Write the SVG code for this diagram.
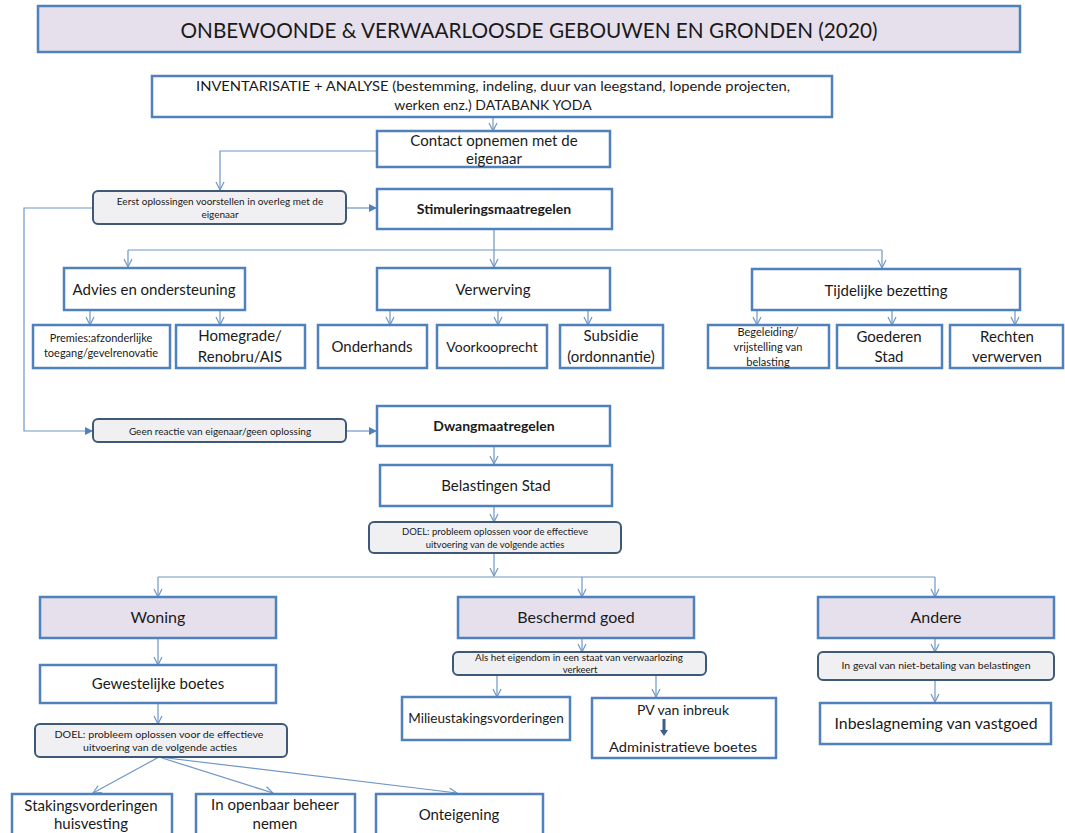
<svg xmlns="http://www.w3.org/2000/svg" width="1065" height="833" viewBox="0 0 1065 833">
<style>
text{font-family:Lato,"Liberation Sans",sans-serif;fill:#1a1a1a;text-anchor:middle}
.box{fill:#fff;stroke:#4f81bd;stroke-width:2.5}
.hdr{fill:#e6e0ec;stroke:#4f81bd;stroke-width:2.5}
.rnd{fill:#f0f0f2;stroke:#3e5878;stroke-width:2}
.ln{fill:none;stroke:#6f97c6;stroke-width:1.2}
.b{font-weight:bold}
</style>
<defs>
<marker id="ar" markerUnits="userSpaceOnUse" markerWidth="12" markerHeight="12" refX="9" refY="5" orient="auto">
<path d="M1,1 L9,5 L1,9" fill="none" stroke="#6f97c6" stroke-width="1.2"/>
</marker>
<marker id="af" markerUnits="userSpaceOnUse" markerWidth="10" markerHeight="10" refX="7" refY="4" orient="auto">
<path d="M0,0 L8,4 L0,8 z" fill="#4f81bd"/>
</marker>
</defs>
<rect width="1065" height="833" fill="#fff"/>

<g id="connectors">
<path class="ln" d="M493,117 V131" marker-end="url(#ar)"/>
<path class="ln" d="M377,151 H220 V190" marker-end="url(#ar)"/>
<path class="ln" d="M346,208 H376" marker-end="url(#af)"/>
<path class="ln" d="M93,208 H24 V431 H92" marker-end="url(#af)"/>
<path class="ln" d="M494,229 V267" marker-end="url(#ar)"/>
<path class="ln" d="M128,250 H882"/>
<path class="ln" d="M128,250 V267" marker-end="url(#ar)"/>
<path class="ln" d="M882,250 V268" marker-end="url(#ar)"/>
<path class="ln" d="M90,310 V325" marker-end="url(#ar)"/>
<path class="ln" d="M220,310 V325" marker-end="url(#ar)"/>
<path class="ln" d="M390,310 V325" marker-end="url(#ar)"/>
<path class="ln" d="M498,310 V325" marker-end="url(#ar)"/>
<path class="ln" d="M588,310 V325" marker-end="url(#ar)"/>
<path class="ln" d="M757,310 V325" marker-end="url(#ar)"/>
<path class="ln" d="M892,310 V325" marker-end="url(#ar)"/>
<path class="ln" d="M1015,310 V325" marker-end="url(#ar)"/>
<path class="ln" d="M346,431 H376" marker-end="url(#af)"/>
<path class="ln" d="M494,446 V464" marker-end="url(#ar)"/>
<path class="ln" d="M494,506 V522" marker-end="url(#ar)"/>
<path class="ln" d="M494,553 V576" marker-end="url(#ar)"/>
<path class="ln" d="M158,577 H935"/>
<path class="ln" d="M158,577 V597" marker-end="url(#ar)"/>
<path class="ln" d="M582,577 V597" marker-end="url(#ar)"/>
<path class="ln" d="M935,577 V597" marker-end="url(#ar)"/>
<path class="ln" d="M158,638 V665" marker-end="url(#ar)"/>
<path class="ln" d="M158,703 V724" marker-end="url(#ar)"/>
<path class="ln" d="M159,757 L93,793" marker-end="url(#ar)"/>
<path class="ln" d="M159,757 L273,793" marker-end="url(#ar)"/>
<path class="ln" d="M159,757 L457,793" marker-end="url(#ar)"/>
<path class="ln" d="M582,638 V652" marker-end="url(#ar)"/>
<path class="ln" d="M497,675 V697" marker-end="url(#ar)"/>
<path class="ln" d="M656,675 V697" marker-end="url(#ar)"/>
<path class="ln" d="M935,638 V652" marker-end="url(#ar)"/>
<path class="ln" d="M935,680 V702" marker-end="url(#ar)"/>
</g>

<g id="title"><rect class="hdr" x="38" y="6" width="982" height="46"/><text x="529" y="38" font-size="22" textLength="697" lengthAdjust="spacingAndGlyphs">ONBEWOONDE &amp; VERWAARLOOSDE GEBOUWEN EN GRONDEN (2020)</text></g>
<g id="inventaris"><rect class="box" x="152" y="76" width="680" height="41"/><text x="493" y="91" font-size="14" textLength="594" lengthAdjust="spacingAndGlyphs">INVENTARISATIE  + ANALYSE (bestemming, indeling, duur van leegstand, lopende projecten,</text><text x="493" y="110" font-size="14">werken enz.) DATABANK YODA</text></g>
<g id="contact"><rect class="box" x="377" y="131" width="233" height="36"/><text x="494" y="146" font-size="15">Contact opnemen met de</text><text x="494" y="164" font-size="15">eigenaar</text></g>
<g id="eerst"><rect class="rnd" x="93" y="191" width="253" height="33" rx="5"/><text x="220" y="205" font-size="10">Eerst oplossingen  voorstellen  in overleg met de</text><text x="220" y="218" font-size="10">eigenaar</text></g>
<g id="stim"><rect class="box" x="377" y="189" width="235" height="40"/><text class="b" x="494" y="214" font-size="14">Stimuleringsmaatregelen</text></g>
<g id="advies"><rect class="box" x="64" y="268" width="181" height="42"/><text x="154" y="295" font-size="15">Advies  en ondersteuning</text></g>
<g id="verwerving"><rect class="box" x="377" y="268" width="233" height="42"/><text x="493" y="295" font-size="15">Verwerving</text></g>
<g id="tijdelijke"><rect class="box" x="752" y="269" width="268" height="41"/><text x="886" y="296" font-size="15">Tijdelijke  bezetting</text></g>
<g id="premies"><rect class="box" x="33" y="325" width="137" height="43"/><text x="101" y="342" font-size="11">Premies:afzonderlijke</text><text x="101" y="357" font-size="11">toegang/gevelrenovatie</text></g>
<g id="homegrade"><rect class="box" x="176" y="325" width="129" height="43"/><text x="240" y="341" font-size="15">Homegrade/</text><text x="240" y="362" font-size="15">Renobru/AIS</text></g>
<g id="onderhands"><rect class="box" x="318" y="325" width="109" height="43"/><text x="372" y="352" font-size="15">Onderhands</text></g>
<g id="voorkoop"><rect class="box" x="437" y="325" width="110" height="43"/><text x="492" y="352" font-size="14">Voorkooprecht</text></g>
<g id="subsidie"><rect class="box" x="560" y="325" width="103" height="43"/><text x="611" y="341" font-size="15">Subsidie</text><text x="611" y="362" font-size="15">(ordonnantie)</text></g>
<g id="begeleiding"><rect class="box" x="708" y="325" width="121" height="43"/><text x="768" y="336" font-size="11">Begeleiding/</text><text x="768" y="351" font-size="11">vrijstelling van</text><text x="768" y="366" font-size="11">belasting</text></g>
<g id="goederen"><rect class="box" x="837" y="325" width="105" height="43"/><text x="889" y="342" font-size="15">Goederen</text><text x="889" y="362" font-size="15">Stad</text></g>
<g id="rechten"><rect class="box" x="950" y="325" width="113" height="43"/><text x="1007" y="342" font-size="15">Rechten</text><text x="1007" y="362" font-size="15">verwerven</text></g>
<g id="geen"><rect class="rnd" x="93" y="419" width="253" height="23" rx="5"/><text x="220" y="435" font-size="10">Geen reactie van eigenaar/geen oplossing</text></g>
<g id="dwang"><rect class="box" x="377" y="406" width="233" height="40"/><text class="b" x="494" y="431" font-size="14">Dwangmaatregelen</text></g>
<g id="belastingen"><rect class="box" x="380" y="465" width="232" height="41"/><text x="496" y="491" font-size="15">Belastingen Stad</text></g>
<g id="doel1"><rect class="rnd" x="369" y="522" width="252" height="31" rx="5"/><text x="495" y="535" font-size="9.5">DOEL: probleem  oplossen  voor de  effectieve</text><text x="495" y="548" font-size="9.5">uitvoering  van de volgende acties</text></g>
<g id="woning"><rect class="hdr" x="40" y="597" width="236" height="41"/><text x="158" y="623" font-size="16">Woning</text></g>
<g id="beschermd"><rect class="hdr" x="458" y="597" width="236" height="41"/><text x="576" y="623" font-size="16">Beschermd goed</text></g>
<g id="andere"><rect class="hdr" x="818" y="597" width="236" height="41"/><text x="936" y="623" font-size="16">Andere</text></g>
<g id="gewestelijke"><rect class="box" x="40" y="665" width="236" height="38"/><text x="158" y="689" font-size="15">Gewestelijke  boetes</text></g>
<g id="doel2"><rect class="rnd" x="35" y="724" width="252" height="33" rx="5"/><text x="159" y="738" font-size="10" textLength="209" lengthAdjust="spacingAndGlyphs">DOEL: probleem oplossen voor de effectieve</text><text x="160" y="751" font-size="10" textLength="154" lengthAdjust="spacingAndGlyphs">uitvoering van de volgende acties</text></g>
<g id="alshet"><rect class="rnd" x="453" y="652" width="253" height="23" rx="5"/><text x="579" y="661" font-size="9.5" textLength="208" lengthAdjust="spacingAndGlyphs">Als het eigendom  in een staat van verwaarlozing</text><text x="580" y="673" font-size="9.5">verkeert</text></g>
<g id="milieu"><rect class="box" x="402" y="697" width="168" height="43"/><text x="486" y="723" font-size="13.5">Milieustakingsvorderingen</text></g>
<g id="pv"><rect class="box" x="592" y="698" width="184" height="60"/><text x="683" y="715" font-size="14">PV van inbreuk</text><path d="M664,719 V731" stroke="#3b5f8a" stroke-width="3"/><path d="M660,730 L664,736 L668,730 z" fill="#3b5f8a"/><text x="683" y="752" font-size="14" textLength="148" lengthAdjust="spacingAndGlyphs">Administratieve  boetes</text></g>
<g id="ingeval"><rect class="rnd" x="818" y="652" width="236" height="28" rx="5"/><text x="936" y="669" font-size="10" textLength="189" lengthAdjust="spacingAndGlyphs">In geval van niet-betaling van belastingen</text></g>
<g id="inbeslag"><rect class="box" x="820" y="703" width="231" height="41"/><text x="936" y="729" font-size="15" textLength="203" lengthAdjust="spacingAndGlyphs">Inbeslagneming  van vastgoed</text></g>
<g id="stakings"><rect class="box" x="12" y="794" width="160" height="45"/><text x="91" y="811" font-size="15">Stakingsvorderingen</text><text x="91" y="829" font-size="15">huisvesting</text></g>
<g id="openbaar"><rect class="box" x="196" y="794" width="159" height="45"/><text x="275" y="810" font-size="15">In openbaar  beheer</text><text x="275" y="829" font-size="15">nemen</text></g>
<g id="onteigening"><rect class="box" x="376" y="794" width="167" height="45"/><text x="459" y="820" font-size="15">Onteigening</text></g>
</svg>
